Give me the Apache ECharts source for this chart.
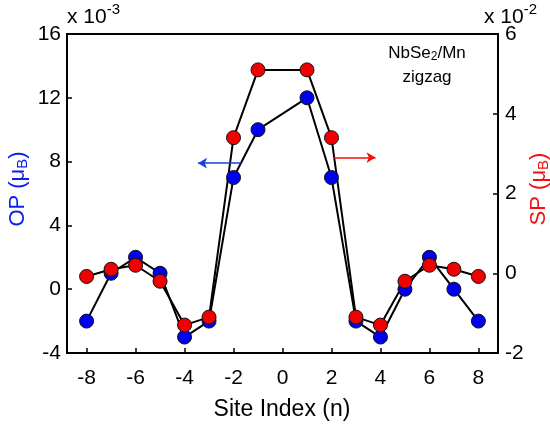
<!DOCTYPE html>
<html>
<head>
<meta charset="utf-8">
<script src="https://cdn.jsdelivr.net/npm/echarts@6/dist/echarts.min.js"></script>
<style>
html,body{margin:0;padding:0;background:#fff;}
#c{width:550px;height:428px;}
</style>
</head>
<body>
<div id="c"></div>
<script>
// Site indices (no site 0)
var sites = [-8,-7,-6,-5,-4,-3,-2,-1,1,2,3,4,5,6,7,8];
// OP values (x 10^-3, left axis)
var opValues = [-2,1,2,1,-3,-2,7,10,12,7,-2,-3,0,2,0,-2];
// SP values (x 10^-2, right axis)
var spValues = [-0.08,0.1,0.2,-0.2,-1.3,-1.1,3.4,5.1,5.1,3.4,-1.1,-1.3,-0.2,0.2,0.1,-0.08];
// tick labels
var xTicks = [-8,-6,-4,-2,0,2,4,6,8];
// annotation arrows (data coords)
var opArrow = [[-1.7,7.9],[-3.45,7.9]];
var spArrow = [[2.1,2.9],[3.8,2.9]];

var FONT = "'Liberation Sans', Arial, Helvetica, sans-serif";
var chart = echarts.init(document.getElementById('c'));

function pairs(xs, ys){ return xs.map(function(x,i){return [x, ys[i]];}); }

var gl = 67, gr = 52, gt = 34, gb = 75;
var option = {
  animation: false,
  backgroundColor: '#fff',
  textStyle: {fontFamily: FONT},
  grid: {left: gl, right: gr, top: gt, bottom: gb, show: true, borderColor: '#000', borderWidth: 2},
  xAxis: {
    type: 'value', min: -8.8, max: 8.8,
    axisLine: {show: true, onZero: false, lineStyle: {color: '#000', width: 2}},
    axisTick: {show: true, inside: true, length: 5, customValues: xTicks, lineStyle: {color: '#000', width: 1.5}},
    axisLabel: {customValues: xTicks, fontSize: 21, color: '#000', margin: 15, fontFamily: FONT},
    splitLine: {show: false}
  },
  yAxis: [
    {
      type: 'value', min: -4, max: 16, interval: 4, position: 'left',
      axisLine: {show: true, onZero: false, lineStyle: {color: '#000', width: 2}},
      axisTick: {show: true, inside: true, length: 5, lineStyle: {color: '#000', width: 1.5}},
      axisLabel: {fontSize: 21, color: '#000', margin: 6, fontFamily: FONT},
      splitLine: {show: false}
    },
    {
      type: 'value', min: -2, max: 6, interval: 2, position: 'right',
      axisLine: {show: true, onZero: false, lineStyle: {color: '#000', width: 2}},
      axisTick: {show: true, inside: true, length: 5, lineStyle: {color: '#000', width: 1.5}},
      axisLabel: {fontSize: 21, color: '#000', margin: 7, fontFamily: FONT},
      splitLine: {show: false}
    }
  ],
  series: [
    {
      type: 'line', yAxisIndex: 0, data: pairs(sites, opValues),
      symbol: 'circle', symbolSize: 14,
      lineStyle: {color: '#000', width: 2},
      itemStyle: {color: '#0000f0', borderColor: '#111', borderWidth: 1},
      markLine: {
        silent: true, symbol: ['none','arrow'], symbolSize: [8, 9],
        label: {show: false},
        lineStyle: {color: '#1a3fe0', width: 1.5, type: 'solid'},
        data: [[{coord: opArrow[0]}, {coord: opArrow[1]}]]
      }
    },
    {
      type: 'line', yAxisIndex: 1, data: pairs(sites, spValues),
      symbol: 'circle', symbolSize: 14,
      lineStyle: {color: '#000', width: 2},
      itemStyle: {color: '#f00000', borderColor: '#111', borderWidth: 1},
      markLine: {
        silent: true, symbol: ['none','arrow'], symbolSize: [8, 9],
        label: {show: false},
        lineStyle: {color: '#f01010', width: 1.5, type: 'solid'},
        data: [[{coord: spArrow[0]}, {coord: spArrow[1]}]]
      }
    }
  ],
  graphic: [
    {type: 'text', left: 67, top: 2, style: {
      text: '{a|x 10}{s|-3}', fontFamily: FONT,
      rich: {a: {fontSize: 21, fill: '#000', fontFamily: FONT, verticalAlign: 'bottom', lineHeight: 26},
             s: {fontSize: 15, fill: '#000', fontFamily: FONT, verticalAlign: 'top', lineHeight: 26, padding: [0,0,11,0]}}
    }},
    {type: 'text', left: 484, top: 2, style: {
      text: '{a|x 10}{s|-2}', fontFamily: FONT,
      rich: {a: {fontSize: 21, fill: '#000', fontFamily: FONT, verticalAlign: 'bottom', lineHeight: 26},
             s: {fontSize: 15, fill: '#000', fontFamily: FONT, verticalAlign: 'top', lineHeight: 26, padding: [0,0,11,0]}}
    }},
    {type: 'text', x: 427, y: 53, style: {
      text: '{a|NbSe}{s|2}{a|/Mn}', align: 'center', verticalAlign: 'middle', fontFamily: FONT,
      rich: {a: {fontSize: 17, fill: '#000', fontFamily: FONT},
             s: {fontSize: 12, fill: '#000', fontFamily: FONT, padding: [8,0,0,0]}}
    }},
    {type: 'text', x: 427, y: 77, style: {
      text: 'zigzag', align: 'center', verticalAlign: 'middle', fontFamily: FONT, fontSize: 17, fill: '#000'
    }},
    {type: 'text', x: 18, y: 189, rotation: Math.PI/2, style: {
      text: '{a|OP (μ}{s|B}{a|)}', align: 'center', verticalAlign: 'middle', fontFamily: FONT,
      rich: {a: {fontSize: 22, fill: '#0a1ef0', fontFamily: FONT},
             s: {fontSize: 15, fill: '#0a1ef0', fontFamily: FONT, padding: [10,0,0,0]}}
    }},
    {type: 'text', x: 539, y: 189, rotation: Math.PI/2, style: {
      text: '{a|SP (μ}{s|B}{a|)}', align: 'center', verticalAlign: 'middle', fontFamily: FONT,
      rich: {a: {fontSize: 22, fill: '#f01010', fontFamily: FONT},
             s: {fontSize: 15, fill: '#f01010', fontFamily: FONT, padding: [10,0,0,0]}}
    }},
    {type: 'text', x: 282, y: 410, style: {
      text: 'Site Index (n)', align: 'center', verticalAlign: 'middle', fontFamily: FONT, fontSize: 23, fill: '#000'
    }}
  ]
};
chart.setOption(option);
</script>
</body>
</html>
